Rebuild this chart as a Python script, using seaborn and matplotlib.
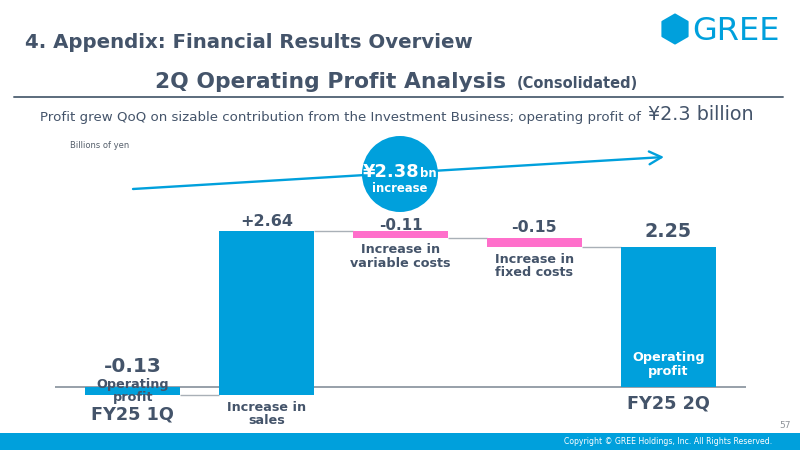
import matplotlib
matplotlib.use("Agg")
import matplotlib.pyplot as plt
import seaborn as sns
from matplotlib.patches import Rectangle, Circle, RegularPolygon, FancyArrowPatch

# ---------------- data ----------------
categories = ["FY25 1Q", "Increase in sales", "Increase in variable costs",
              "Increase in fixed costs", "FY25 2Q"]
changes = [-0.13, 2.64, -0.11, -0.15, 2.25]
is_total = [True, False, False, False, True]
value_labels = ["-0.13", "+2.64", "-0.11", "-0.15", "2.25"]
category_labels = ["Operating\nprofit", "Increase in\nsales", "Increase in\nvariable costs",
                   "Increase in\nfixed costs", "Operating\nprofit"]
period_labels = ["FY25 1Q", "", "", "", "FY25 2Q"]
increase_value = "¥2.38"

# ---------------- style ----------------
sns.set_style("white")
plt.rcParams["font.family"] = ["DejaVu Sans"]
BLUE = "#00A0DC"
PINK = "#FF6FCB"
TEXT = "#44546A"
GRID = "#8F99A3"
CONN = "#A9B0B7"

W, H = 800, 450
fig = plt.figure(figsize=(8, 4.5), dpi=100)


def fx(x):
    return x / W


def fy(y):
    return 1 - y / H


def ftext(x, y, s, **kw):
    return fig.text(fx(x), fy(y), s, **kw)


# ---------------- waterfall axes ----------------
SCALE = 62.0           # px per unit
ZERO_Y = 386.5         # px from top
YMIN, YMAX = -0.8, 4.2
ax_bottom_px = (H - ZERO_Y) + YMIN * SCALE
ax = fig.add_axes([fx(55), ax_bottom_px / H, 691 / W, (YMAX - YMIN) * SCALE / H])
ax.patch.set_alpha(0)

bottoms, heights, colors = [], [], []
running = 0.0
levels = []
for v, tot in zip(changes, is_total):
    if tot:
        b, h = 0.0, v
        running = v
    else:
        b, h = running, v
        running = running + v
    bottoms.append(b)
    heights.append(h)
    levels.append(running)
    colors.append(BLUE if (tot or v > 0) else PINK)

BAR_W = 95 / 134
for i, cat in enumerate(categories):
    sns.barplot(x=[cat], y=[heights[i]], order=categories, bottom=bottoms[i],
                color=colors[i], width=BAR_W, errorbar=None, linewidth=0,
                saturation=1, zorder=3, ax=ax)

ax.axhline(0, color=GRID, lw=1.3, zorder=1)
for i in range(len(categories) - 1):
    ax.plot([i + BAR_W / 2, i + 1 - BAR_W / 2], [levels[i], levels[i]],
            color=CONN, lw=1.0, zorder=2, solid_capstyle="butt")

ax.set_xlim(-0.58, 4.58)
ax.set_ylim(YMIN, YMAX)
ax.set_xticks([])
ax.set_yticks([])
ax.set_xlabel("")
ax.set_ylabel("")
for s in ax.spines.values():
    s.set_visible(False)

# value labels
val_sizes = [14.5, 11.5, 11, 11.3, 13.7]
val_offsets = [15, 5, 1, 6, 10]
for i in range(len(categories)):
    if is_total[i]:
        top = max(0.0, bottoms[i], bottoms[i] + heights[i])
    else:
        top = max(bottoms[i], bottoms[i] + heights[i])
    ax.annotate(value_labels[i], xy=(i, top), xytext=(0, val_offsets[i]),
                textcoords="offset pixels", ha="center", va="baseline",
                fontsize=val_sizes[i], fontweight="bold", color=TEXT, zorder=5,
                annotation_clip=False)

# category labels
cat_offsets = [3.5, -19.5, -19, -19, 22]
cat_colors = [TEXT, TEXT, TEXT, TEXT, "white"]
for i in range(len(categories)):
    if i == 4:
        ref = 0.0
    else:
        ref = min(bottoms[i], bottoms[i] + heights[i])
    ax.annotate(category_labels[i], xy=(i, ref), xytext=(0, cat_offsets[i]),
                textcoords="offset pixels", ha="center", va="center",
                fontsize=9.2, fontweight="bold", color=cat_colors[i],
                linespacing=1.05, zorder=6, annotation_clip=False)

per_offsets = [-27.5, 0, 0, 0, -17]
for i in range(len(categories)):
    if period_labels[i]:
        ax.annotate(period_labels[i], xy=(i, 0.0),
                    xytext=(0, per_offsets[i]), textcoords="offset pixels",
                    ha="center", va="center", fontsize=12.7, fontweight="bold",
                    color=TEXT, zorder=6, annotation_clip=False)

# ---------------- arrow and circle ----------------
arrow = FancyArrowPatch((fx(133), fy(189)), (fx(664), fy(157)),
                        transform=fig.transFigure,
                        arrowstyle="->,head_length=0.42,head_width=0.22",
                        mutation_scale=21, lw=1.7, color=BLUE,
                        shrinkA=0, shrinkB=0, zorder=2)
fig.add_artist(arrow)
circ = Circle((4.00, (H - 174) / 100), 0.38, transform=fig.dpi_scale_trans,
              facecolor=BLUE, edgecolor="none", zorder=3)
fig.add_artist(circ)
ftext(419.5, 176.7, increase_value, ha="right", va="baseline", fontsize=12.9,
      fontweight="bold", color="white", zorder=4)
ftext(420, 176.7, "bn", ha="left", va="baseline", fontsize=8.4,
      fontweight="bold", color="white", zorder=4)
ftext(400, 192.3, "increase", ha="center", va="baseline", fontsize=8.4,
      fontweight="bold", color="white", zorder=4)

# ---------------- header ----------------
ftext(25, 47.7, "4. Appendix: Financial Results Overview", ha="left", va="baseline",
      fontsize=14.2, fontweight="bold", color=TEXT)
ftext(155, 87.5, "2Q Operating Profit Analysis", ha="left", va="baseline",
      fontsize=15.7, fontweight="bold", color=TEXT)
ftext(517, 87.5, "(Consolidated)", ha="left", va="baseline",
      fontsize=10.5, fontweight="bold", color=TEXT)
fig.add_artist(plt.Line2D([fx(14), fx(783)], [fy(96.5), fy(96.5)],
                          transform=fig.transFigure, color="#5B6B7C", lw=1.4))
ftext(40, 120.5, "Profit grew QoQ on sizable contribution from the Investment Business; operating profit of",
      ha="left", va="baseline", fontsize=9.65, color=TEXT)
ftext(648, 120.5, "¥2.3 billion", ha="left", va="baseline", fontsize=13.8, color=TEXT)
ftext(70, 148, "Billions of yen", ha="left", va="baseline", fontsize=6.0, color="#555F6B")

# logo
hexagon = RegularPolygon((6.75, (H - 29) / 100), numVertices=6, radius=0.145,
                         orientation=0, transform=fig.dpi_scale_trans,
                         facecolor=BLUE, edgecolor=BLUE, lw=1.5, joinstyle="round")
fig.add_artist(hexagon)
ftext(692, 40, "GREE", ha="left", va="baseline", fontsize=23.0, color=BLUE)

# ---------------- footer ----------------
fig.add_artist(Rectangle((0, 0), 1, 17 / H, transform=fig.transFigure,
                         facecolor=BLUE, edgecolor="none"))
ftext(772, 442, "Copyright © GREE Holdings, Inc. All Rights Reserved.", ha="right",
      va="center", fontsize=5.6, color="white")
ftext(791, 425, "57", ha="right", va="center", fontsize=6.5, color="#8E9399")

fig.savefig("out.png", dpi=100)
